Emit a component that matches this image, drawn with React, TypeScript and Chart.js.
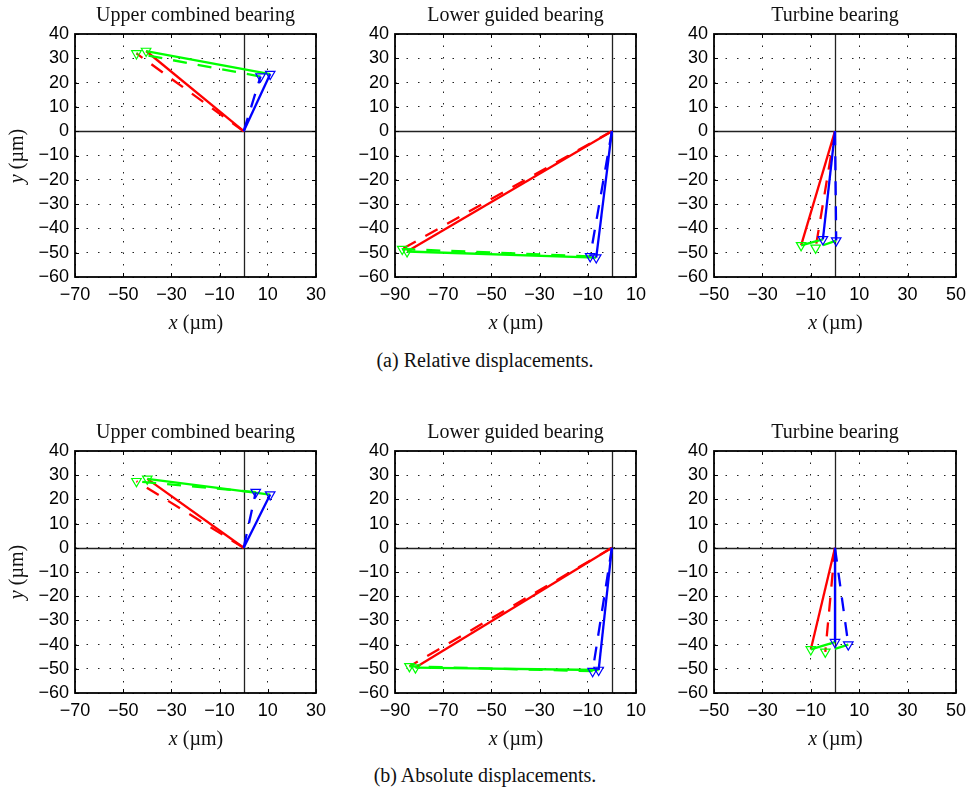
import React, { useEffect, useRef } from "react";
import { Chart, registerables } from "chart.js";

Chart.register(...registerables);

// ---------- data ----------
const bearingTitles = ["Upper combined bearing", "Lower guided bearing", "Turbine bearing"];
const captions = ["(a) Relative displacements.", "(b) Absolute displacements."];
const xMins = [-70, -90, -50];
const xMaxs = [30, 10, 50];
const xStep = 20;
const yMin = -60;
const yMax = 40;
const yStep = 10;

// Vector tips [x, y] in µm, one entry per bearing (upper, lower, turbine)
const relRedSolid = [[-40.5, 33], [-85, -49.5], [-14, -47]];
const relBlueSolid = [[11, 23.5], [-6.5, -52], [-5, -44.5]];
const relRedDashed = [[-44.5, 32], [-87, -48.5], [-8, -48]];
const relBlueDashed = [[7, 22.5], [-9, -51.5], [0.5, -45]];

const absRedSolid = [[-40, 28.5], [-81.5, -49.5], [-10, -42]];
const absBlueSolid = [[11, 22], [-5.5, -50.5], [0, -39]];
const absRedDashed = [[-44.5, 27.5], [-84, -49], [-4, -43]];
const absBlueDashed = [[5, 23], [-8, -51], [5.5, -40]];

// ---------- layout ----------
const colLeft = [75, 395, 714];
const colWidth = [242, 242, 243];
const rowTop = [34, 451];
const rowHeight = [243, 242];
const Y_AXIS_W = 70;
const X_AXIS_H = 40;
const TITLE_H = 32;
const RIGHT_PAD = 16;

const RED = "#ff0000";
const BLUE = "#0000ff";
const GREEN = "#00ff00";
const DASH = [14, 11];
const SERIF = "'Liberation Serif', 'Times New Roman', Times, serif";
const SANS = "'Liberation Sans', Arial, Helvetica, sans-serif";

const fmt = (v: number) => String(v).replace("-", "\u2212");

const framePlugin = {
  id: "matlabFrame",
  beforeDatasetsDraw(chart: any) {
    const { ctx, chartArea: a, scales } = chart;
    const x0 = Math.round(scales.x.getPixelForValue(0)) + 0.5;
    const y0 = Math.round(scales.y.getPixelForValue(0)) + 0.5;
    ctx.save();
    ctx.strokeStyle = "#222";
    ctx.lineWidth = 1.3;
    ctx.beginPath();
    ctx.moveTo(x0, a.top);
    ctx.lineTo(x0, a.bottom);
    ctx.moveTo(a.left, y0);
    ctx.lineTo(a.right, y0);
    ctx.stroke();
    ctx.restore();
  },
  afterDraw(chart: any) {
    const { ctx, chartArea: a, scales } = chart;
    ctx.save();
    ctx.strokeStyle = "#000";
    ctx.lineWidth = 1;
    const tl = 4;
    ctx.beginPath();
    scales.x.ticks.forEach((t: any) => {
      const px = Math.round(scales.x.getPixelForValue(t.value)) + 0.5;
      ctx.moveTo(px, a.bottom);
      ctx.lineTo(px, a.bottom - tl);
      ctx.moveTo(px, a.top);
      ctx.lineTo(px, a.top + tl);
    });
    scales.y.ticks.forEach((t: any) => {
      const py = Math.round(scales.y.getPixelForValue(t.value)) + 0.5;
      ctx.moveTo(a.left, py);
      ctx.lineTo(a.left + tl, py);
      ctx.moveTo(a.right, py);
      ctx.lineTo(a.right - tl, py);
    });
    ctx.stroke();
    ctx.lineWidth = 1.8;
    ctx.strokeRect(a.left, a.top, a.right - a.left, a.bottom - a.top);
    ctx.restore();
  },
};

function seg(from: number[], to: number[]) {
  return [
    { x: from[0], y: from[1] },
    { x: to[0], y: to[1] },
  ];
}

function lineDs(data: any[], color: string, dashed: boolean, marker: boolean) {
  return {
    data,
    showLine: true,
    borderColor: color,
    borderWidth: 2.3,
    borderDash: dashed ? DASH : [],
    pointRadius: marker ? [0, 5.5] : [0, 0],
    pointStyle: "triangle",
    pointRotation: 180,
    pointBorderColor: color,
    pointBackgroundColor: "rgba(0,0,0,0)",
    pointBorderWidth: 1.2,
  };
}

function Panel({ row, col }: { row: number; col: number }) {
  const ref = useRef<HTMLCanvasElement>(null);
  const w = Y_AXIS_W + colWidth[col] + RIGHT_PAD;
  const h = TITLE_H + rowHeight[row] + X_AXIS_H;

  useEffect(() => {
    const rS = (row === 0 ? relRedSolid : absRedSolid)[col];
    const bS = (row === 0 ? relBlueSolid : absBlueSolid)[col];
    const rD = (row === 0 ? relRedDashed : absRedDashed)[col];
    const bD = (row === 0 ? relBlueDashed : absBlueDashed)[col];
    const o = [0, 0];
    const chart = new Chart(ref.current as HTMLCanvasElement, {
      type: "scatter",
      data: {
        datasets: [
          lineDs(seg(o, bS), BLUE, false, true),
          lineDs(seg(o, bD), BLUE, true, true),
          lineDs(seg(bS, rS), GREEN, false, true),
          lineDs(seg(bD, rD), GREEN, true, true),
          lineDs(seg(o, rS), RED, false, false),
          lineDs(seg(o, rD), RED, true, false),
        ] as any,
      },
      options: {
        animation: false,
        responsive: false,
        maintainAspectRatio: false,
        events: [],
        layout: { padding: { left: 0, right: RIGHT_PAD, top: 0, bottom: 0 } },
        plugins: {
          legend: { display: false },
          tooltip: { enabled: false },
          title: {
            display: true,
            text: bearingTitles[col],
            fullSize: false,
            color: "#111",
            font: { family: SERIF, size: 20, weight: "normal", lineHeight: 1.2 },
            padding: { top: 2, bottom: 6 },
          },
        },
        scales: {
          x: {
            type: "linear",
            min: xMins[col],
            max: xMaxs[col],
            afterFit: (s: any) => {
              s.height = X_AXIS_H;
            },
            ticks: {
              stepSize: xStep,
              autoSkip: false,
              maxRotation: 0,
              padding: 7,
              color: "#000",
              font: { family: SANS, size: 18 },
              callback: (v: any) => fmt(v),
            },
            grid: { color: "#222", lineWidth: 1, drawTicks: false },
            border: { display: false, dash: [1.5, 10] },
          },
          y: {
            type: "linear",
            min: yMin,
            max: yMax,
            afterFit: (s: any) => {
              s.width = Y_AXIS_W;
            },
            ticks: {
              stepSize: yStep,
              autoSkip: false,
              padding: 6,
              color: "#000",
              font: { family: SANS, size: 18 },
              callback: (v: any) => fmt(v),
            },
            grid: { color: "#222", lineWidth: 1, drawTicks: false },
            border: { display: false, dash: [1.5, 10] },
          },
        },
      } as any,
      plugins: [framePlugin],
    });
    return () => chart.destroy();
  }, [row, col]);

  return (
    <canvas
      ref={ref}
      width={w}
      height={h}
      style={{
        position: "absolute",
        left: colLeft[col] - Y_AXIS_W,
        top: rowTop[row] - TITLE_H,
        width: w,
        height: h,
      }}
    />
  );
}

const textStyle: React.CSSProperties = {
  position: "absolute",
  fontFamily: SERIF,
  fontSize: 20,
  lineHeight: "20px",
  color: "#111",
  whiteSpace: "nowrap",
};

export default function App() {
  const rows = [0, 1];
  const cols = [0, 1, 2];
  const captionY = [360, 775];
  return (
    <div
      style={{
        position: "absolute",
        left: 0,
        top: 0,
        width: 974,
        height: 791,
        background: "#fff",
        overflow: "hidden",
      }}
    >
      {rows.map((r) =>
        cols.map((c) => <Panel key={`${r}-${c}`} row={r} col={c} />)
      )}
      {rows.map((r) =>
        cols.map((c) => (
          <div
            key={`xl-${r}-${c}`}
            style={{
              ...textStyle,
              left: colLeft[c] + colWidth[c] / 2,
              top: rowTop[r] + rowHeight[r] + 45,
              transform: "translate(-50%, -50%)",
            }}
          >
            <i>x</i> (µm)
          </div>
        ))
      )}
      {rows.map((r) => (
        <div
          key={`yl-${r}`}
          style={{
            ...textStyle,
            left: 16,
            top: rowTop[r] + rowHeight[r] / 2,
            transform: "translate(-50%, -50%) rotate(-90deg)",
          }}
        >
          <i>y</i> (µm)
        </div>
      ))}
      {rows.map((r) => (
        <div
          key={`cap-${r}`}
          style={{
            ...textStyle,
            left: 485,
            top: captionY[r],
            transform: "translate(-50%, -50%)",
          }}
        >
          {captions[r]}
        </div>
      ))}
    </div>
  );
}
